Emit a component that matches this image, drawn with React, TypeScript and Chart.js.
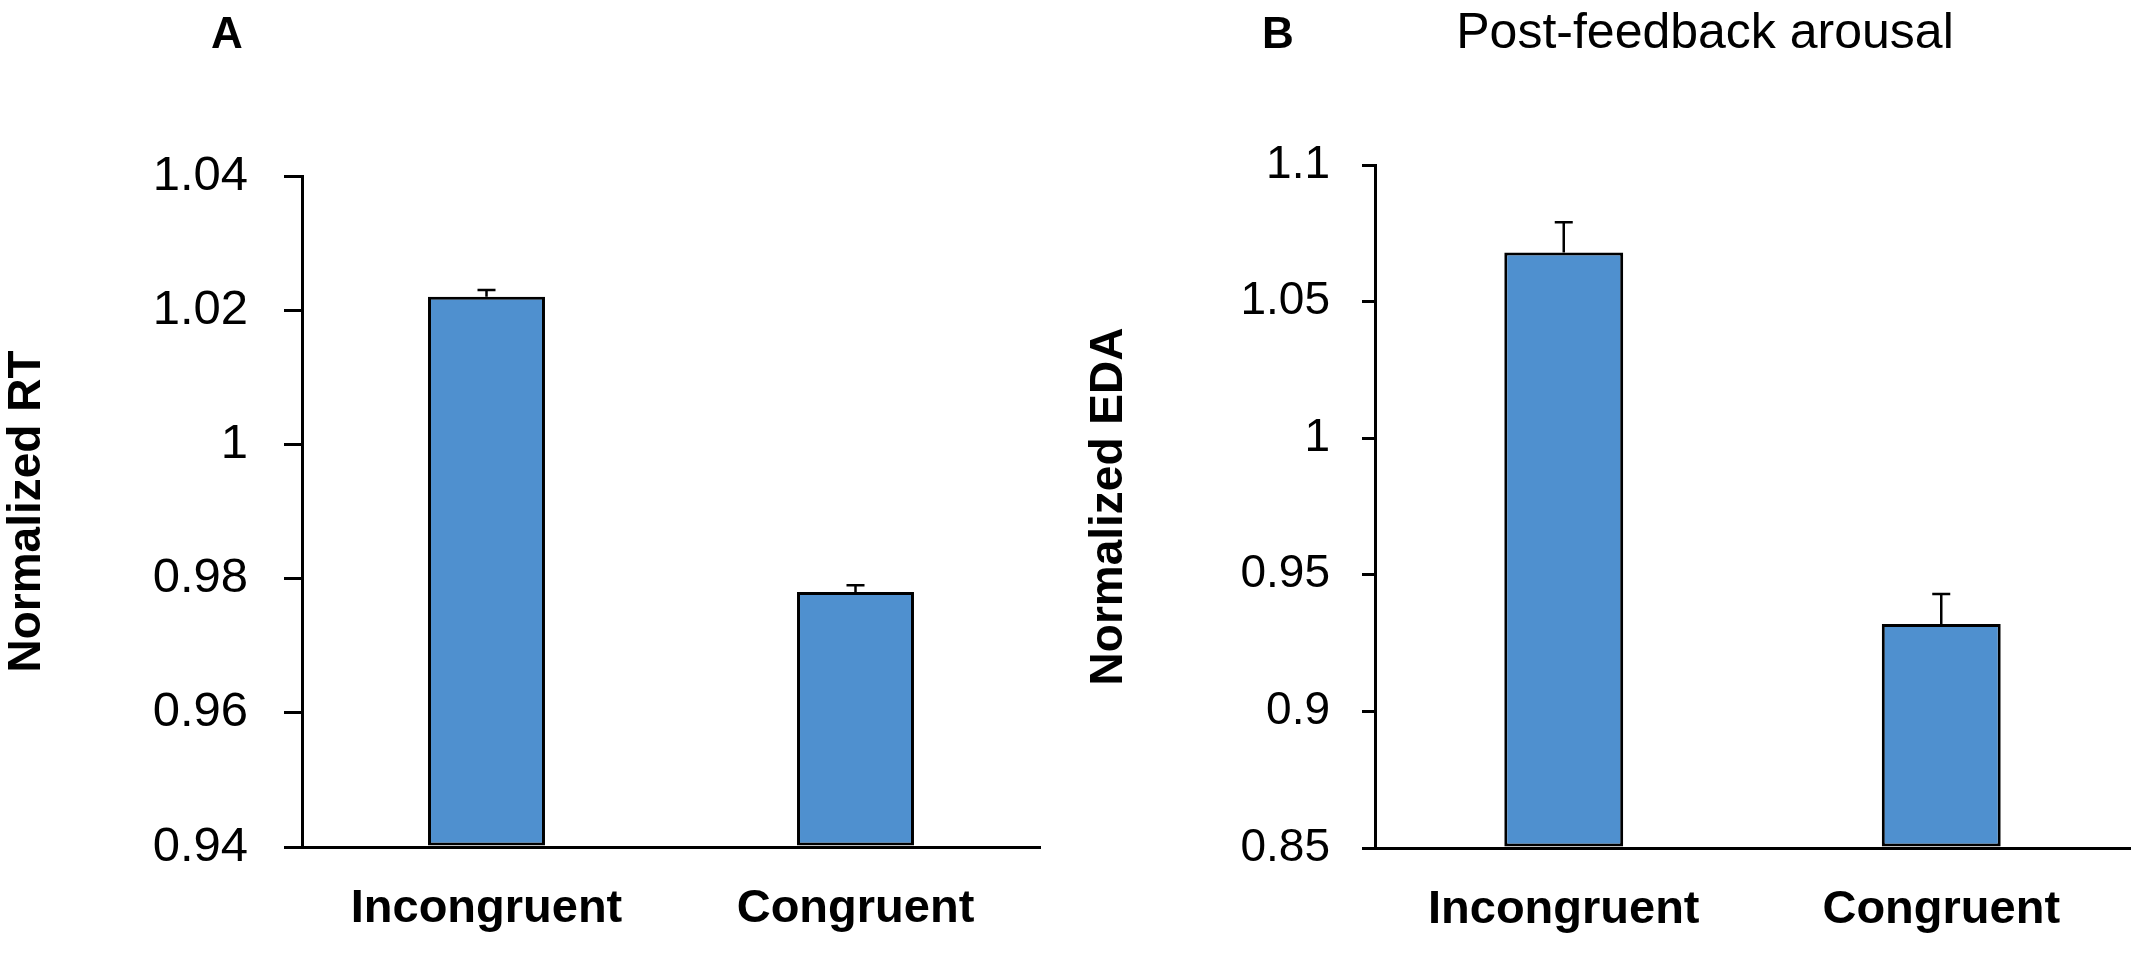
import React, { useEffect, useRef } from 'react';
import { Chart, registerables } from 'chart.js';

Chart.register(...registerables);

const categories = ['Incongruent', 'Congruent'];

// panel A: reaction time
const rtMeans = [1.022, 0.978];
const rtErrors = [0.001, 0.001];
const rtTicks = [0.94, 0.96, 0.98, 1, 1.02, 1.04];

// panel B: electrodermal activity
const edaMeans = [1.068, 0.932];
const edaErrors = [0.011, 0.011];
const edaTicks = [0.85, 0.9, 0.95, 1, 1.05, 1.1];

const FONT = "'Liberation Sans', Arial, Helvetica, sans-serif";
const BAR_BLUE = '#4f90cf';

// draws the upper half of each error bar from the plugin options
const errorBars = {
  id: 'errorBars',
  afterDatasetsDraw(chart: any, _args: any, opts: any) {
    const meta = chart.getDatasetMeta(0);
    const y = chart.scales.y;
    const ctx = chart.ctx;
    const means: number[] = opts.means || [];
    const errs: number[] = opts.errors || [];
    ctx.save();
    ctx.strokeStyle = '#000';
    ctx.lineWidth = 2.5;
    meta.data.forEach((bar: any, i: number) => {
      const yBar = y.getPixelForValue(means[i]);
      const yTop = y.getPixelForValue(means[i] + errs[i]);
      ctx.beginPath();
      ctx.moveTo(bar.x, yBar);
      ctx.lineTo(bar.x, yTop);
      ctx.moveTo(bar.x - 9, yTop);
      ctx.lineTo(bar.x + 9, yTop);
      ctx.stroke();
    });
    ctx.restore();
  },
};

type PanelProps = {
  width: number;
  means: number[];
  errors: number[];
  ticks: number[];
  yTitle: string;
  axisWidth: number;
  padTop: number;
  padRight: number;
  xAxisHeight: number;
  tickFont: number;
  tickPad: number;
  tickLen: number;
  titlePad: number;
  barPct: number;
};

const Panel: React.FC<PanelProps> = (p) => {
  const canvasRef = useRef<HTMLCanvasElement | null>(null);

  useEffect(() => {
    if (!canvasRef.current) return;
    const chart = new Chart(canvasRef.current, {
      type: 'bar',
      data: {
        labels: categories,
        datasets: [
          {
            data: p.means,
            backgroundColor: BAR_BLUE,
            borderColor: '#000',
            borderWidth: 3,
            borderSkipped: false,
            base: p.ticks[0],
            barPercentage: p.barPct,
            categoryPercentage: 1,
          } as any,
        ],
      },
      plugins: [errorBars],
      options: {
        responsive: false,
        animation: false,
        layout: { padding: { top: p.padTop, right: p.padRight, left: 0, bottom: 0 } },
        plugins: {
          legend: { display: false },
          tooltip: { enabled: false },
          errorBars: { means: p.means, errors: p.errors },
        } as any,
        scales: {
          x: {
            grid: { display: false, drawTicks: false },
            border: { display: true, color: '#000', width: 3 },
            ticks: {
              color: '#000',
              padding: 34,
              maxRotation: 0,
              autoSkip: false,
              font: { family: FONT, size: 47, weight: 'bold' },
            },
            afterFit: (s: any) => {
              s.height = p.xAxisHeight;
            },
          },
          y: {
            min: p.ticks[0],
            max: p.ticks[p.ticks.length - 1],
            afterBuildTicks: (s: any) => {
              s.ticks = p.ticks.map((v) => ({ value: v }));
            },
            grid: {
              drawOnChartArea: false,
              drawTicks: true,
              tickLength: p.tickLen,
              color: '#000',
              lineWidth: 3,
            },
            border: { display: true, color: '#000', width: 3 },
            ticks: {
              color: '#000',
              padding: p.tickPad,
              font: { family: FONT, size: p.tickFont },
              callback: (v: any) => String(v),
            },
            title: {
              display: true,
              text: p.yTitle,
              color: '#000',
              padding: { top: p.titlePad, bottom: 0 },
              font: { family: FONT, size: 46, weight: 'bold' },
            },
            afterFit: (s: any) => {
              s.width = p.axisWidth;
            },
          },
        },
      },
    });
    return () => {
      chart.destroy();
    };
  }, []);

  return (
    <canvas
      ref={canvasRef}
      width={p.width}
      height={953}
      style={{ width: p.width, height: 953, display: 'block' }}
    />
  );
};

const label = (text: string, left: number, top: number, size: number, bold: boolean, width: number) => (
  <div
    style={{
      position: 'absolute',
      left,
      top,
      width,
      textAlign: 'center',
      fontFamily: FONT,
      fontSize: size,
      fontWeight: bold ? 'bold' : 'normal',
      lineHeight: 1,
      color: '#000',
      whiteSpace: 'nowrap',
    }}
  >
    {text}
  </div>
);

export default function App() {
  return (
    <div
      style={{
        position: 'absolute',
        left: 0,
        top: 0,
        width: 2139,
        height: 953,
        background: '#fff',
        overflow: 'hidden',
      }}
    >
      <div style={{ position: 'absolute', left: 0, top: 0 }}>
        <Panel
          width={1070}
          means={rtMeans}
          errors={rtErrors}
          ticks={rtTicks}
          yTitle="Normalized RT"
          axisWidth={302}
          padTop={176}
          padRight={30}
          xAxisHeight={106}
          tickFont={49}
          tickPad={36}
          tickLen={18}
          titlePad={0}
          barPct={0.317}
        />
      </div>
      <div style={{ position: 'absolute', left: 1070, top: 0 }}>
        <Panel
          width={1069}
          means={edaMeans}
          errors={edaErrors}
          ticks={edaTicks}
          yTitle="Normalized EDA"
          axisWidth={305}
          padTop={165}
          padRight={9}
          xAxisHeight={105}
          tickFont={46}
          tickPad={32}
          tickLen={13}
          titlePad={12}
          barPct={0.315}
        />
      </div>
      {label('A', 177, 11, 44, true, 100)}
      {label('B', 1228, 11, 44, true, 100)}
      {label('Post-feedback arousal', 1405, 6, 50, false, 600)}
    </div>
  );
}
